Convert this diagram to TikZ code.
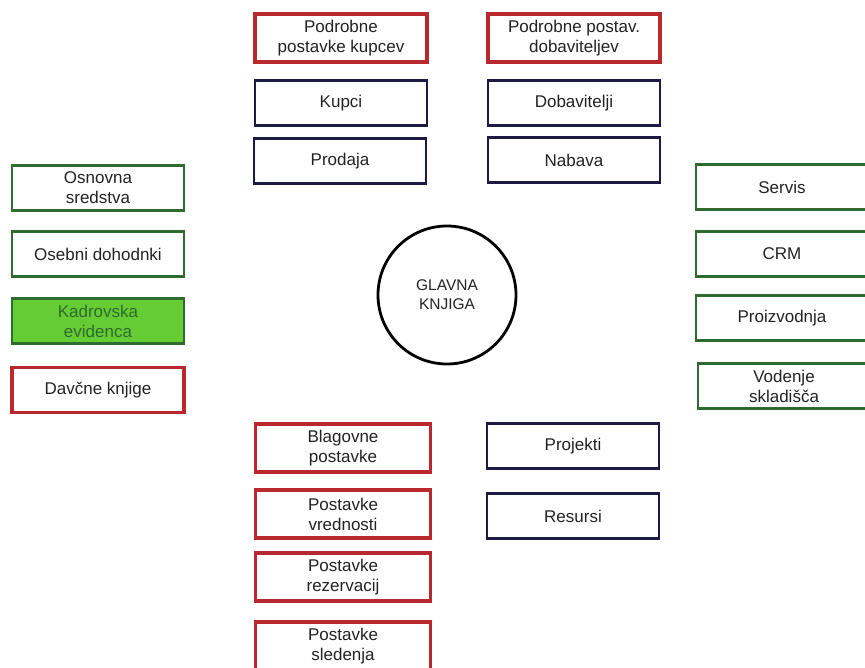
\documentclass[tikz,border=0pt]{standalone}
\usepackage{fontspec}
\setmainfont{Liberation Sans}
\definecolor{gkRed}{HTML}{B8282C}
\definecolor{gkNavy}{HTML}{1B1B45}
\definecolor{gkGreen}{HTML}{2F6A2F}
\definecolor{gkLime}{HTML}{66CC33}
\definecolor{gkText}{HTML}{222222}
\tikzset{
  gk box/.style={
    rectangle,
    align=center,
    inner sep=0pt,
    minimum width=172pt,
    minimum height=45pt,
    text=gkText,
    font=\fontsize{17}{20}\selectfont
  },
  gk red/.style={gk box, draw=gkRed, line width=3.4pt, minimum height=48pt},
  gk navy/.style={gk box, draw=gkNavy, line width=2.6pt},
  gk green/.style={gk box, draw=gkGreen, line width=2.2pt},
  gk filled/.style={gk green, fill=gkLime, text=gkGreen},
  gk ledger/.style={
    circle,
    draw=black,
    line width=2.8pt,
    minimum size=138pt,
    align=center,
    text=gkText,
    font=\fontsize{15.5}{19}\selectfont
  }
}

\begin{document}
\begin{tikzpicture}[x=1pt,y=-1pt]
  \useasboundingbox (0,0) rectangle (865,667);

  \node[gk ledger] (ledger) at (447,295) {GLAVNA\\KNJIGA};

  % kupci / dobavitelji
  \node[gk red]  (detkupci) at (341,38)  {Podrobne\\postavke kupcev};
  \node[gk navy] (kupci)    at (341,103) {Kupci};
  \node[gk navy] (prodaja)  at (340,161) {Prodaja};
  \node[gk red]  (detdobav) at (574,38)  {Podrobne postav.\\dobaviteljev};
  \node[gk navy] (dobav)    at (574,103) {Dobavitelji};
  \node[gk navy] (nabava)   at (574,160) {Nabava};

  % left column
  \node[gk green]  (osnovna)   at (98,188) {Osnovna\\sredstva};
  \node[gk green]  (osebni)    at (98,254) {Osebni dohodnki};
  \node[gk filled] (kadrovska) at (98,321) {Kadrovska\\evidenca};
  \node[gk red, minimum height=45pt] (davcne) at (98,390) {Davčne knjige};

  % right column
  \node[gk green] (servis)   at (782,187) {Servis};
  \node[gk green] (crm)      at (782,254) {CRM};
  \node[gk green] (proizv)   at (782,318) {Proizvodnja};
  \node[gk green] (vodenje)  at (784,386) {Vodenje\\skladišča};

  % zaloge
  \node[gk red, minimum width=175pt] (blagovne)   at (343,448) {Blagovne\\postavke};
  \node[gk red, minimum width=175pt] (vrednosti)  at (343,514) {Postavke\\vrednosti};
  \node[gk red, minimum width=175pt] (rezervacij) at (343,577) {Postavke\\rezervacij};
  \node[gk red, minimum width=175pt] (sledenja)   at (343,646) {Postavke\\sledenja};

  \node[gk navy] (projekti) at (573,446) {Projekti};
  \node[gk navy] (resursi)  at (573,516) {Resursi};
\end{tikzpicture}
\end{document}
